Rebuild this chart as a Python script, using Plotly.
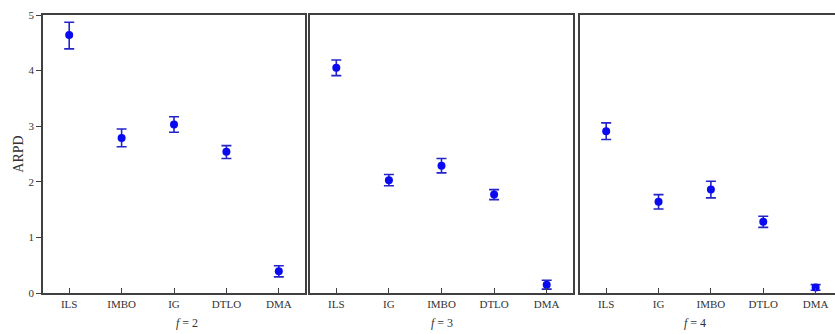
import plotly.graph_objects as go

# ---- data ----
cats_f2 = ["ILS", "IMBO", "IG", "DTLO", "DMA"]
vals_f2 = [4.64, 2.79, 3.03, 2.54, 0.39]
err_hi_f2 = [0.23, 0.16, 0.14, 0.11, 0.10]
err_lo_f2 = [0.25, 0.16, 0.14, 0.12, 0.10]

cats_f3 = ["ILS", "IG", "IMBO", "DTLO", "DMA"]
vals_f3 = [4.05, 2.03, 2.29, 1.77, 0.15]
err_hi_f3 = [0.14, 0.10, 0.13, 0.09, 0.08]
err_lo_f3 = [0.14, 0.10, 0.13, 0.09, 0.08]

cats_f4 = ["ILS", "IG", "IMBO", "DTLO", "DMA"]
vals_f4 = [2.91, 1.64, 1.86, 1.28, 0.10]
err_hi_f4 = [0.15, 0.13, 0.15, 0.10, 0.05]
err_lo_f4 = [0.15, 0.13, 0.15, 0.10, 0.05]

panel_labels = ["<i>f</i> = 2", "<i>f</i> = 3", "<i>f</i> = 4"]
y_ticks = [0, 1, 2, 3, 4, 5]

W, H = 835, 334
FONT = "Liberation Serif, Times New Roman, serif"
AXC = "#404040"
MARKC = "#0a0af0"
ERRC = "#2424c8"

panels = [
    (cats_f2, vals_f2, err_hi_f2, err_lo_f2, (43, 305), [-0.5, 4.5]),
    (cats_f3, vals_f3, err_hi_f3, err_lo_f3, (310, 573), [-0.5, 4.5]),
    (cats_f4, vals_f4, err_hi_f4, err_lo_f4, (580, 835), [-0.5, 4.37]),
]

fig = go.Figure()
for i, (cats, vals, ehi, elo, (x0, x1), xr) in enumerate(panels):
    n = "" if i == 0 else str(i + 1)
    fig.add_trace(go.Scatter(
        x=cats, y=vals, mode="markers",
        marker=dict(color=MARKC, size=8),
        error_y=dict(type="data", array=ehi, arrayminus=elo, symmetric=False,
                     color=ERRC, thickness=1.6, width=5),
        xaxis="x" + n, yaxis="y" + n, showlegend=False,
    ))
    fig.layout["xaxis" + n] = dict(
        domain=[x0 / W, x1 / W], anchor="y" + n, type="category",
        categoryorder="array", categoryarray=cats, range=xr,
        showline=True, linecolor=AXC, linewidth=1.5, mirror=True,
        ticks="inside", ticklen=5, tickwidth=1, tickcolor=AXC,
        showgrid=False, zeroline=False,
        tickfont=dict(family=FONT, size=11, color="#333"),
    )
    ydict = dict(
        domain=[0, 1], anchor="x" + n, range=[0, 5],
        showline=True, linecolor=AXC, linewidth=1.5,
        mirror=(i < 2), showgrid=False, zeroline=False,
    )
    if i == 0:
        ydict.update(tickvals=y_ticks, ticks="outside", ticklen=5, tickwidth=1,
                     tickcolor=AXC, tickfont=dict(family=FONT, size=11, color="#333"),
                     title=dict(text="ARPD", font=dict(family=FONT, size=14, color="#333"),
                                standoff=2))
    else:
        ydict.update(showticklabels=False, ticks="")
    fig.layout["yaxis" + n] = ydict
    fig.add_annotation(
        text=panel_labels[i], xref="paper", yref="paper",
        x=((x0 + x1) / 2) / W, y=0, yshift=-30, yanchor="middle",
        showarrow=False, font=dict(family=FONT, size=12, color="#333"),
    )

fig.update_layout(
    width=W, height=H,
    margin=dict(l=0, r=0, t=15, b=41),
    paper_bgcolor="white", plot_bgcolor="white",
)

fig.write_html("out.html")
